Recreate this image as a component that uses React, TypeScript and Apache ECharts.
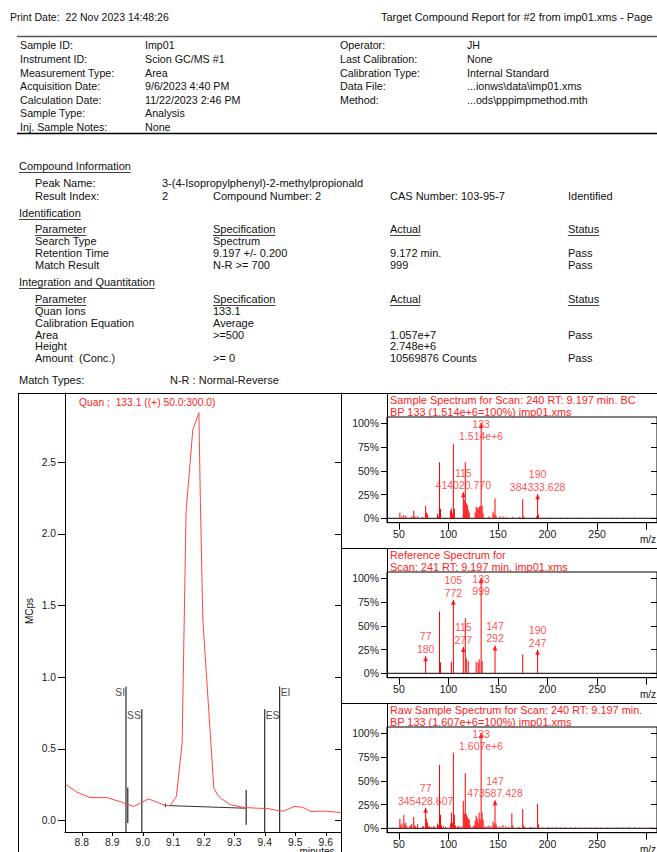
import React, { useEffect, useRef } from 'react';
import * as echarts from 'echarts';

const FONT = '"Liberation Sans", Arial, sans-serif';
const RED = '#ff0000';
const RED_TEXT = '#ff2424';
const INK = '#111111';

// ---- report header ----
const printDate = 'Print Date:  22 Nov 2023 14:48:26';
const reportTitle = 'Target Compound Report for #2 from imp01.xms - Page';

const sampleInfoLabels = ['Sample ID:', 'Instrument ID:', 'Measurement Type:', 'Acquisition Date:', 'Calculation Date:', 'Sample Type:', 'Inj. Sample Notes:'];
const sampleInfoValues = ['Imp01', 'Scion GC/MS #1', 'Area', '9/6/2023 4:40 PM', '11/22/2023 2:46 PM', 'Analysis', 'None'];
const runInfoLabels = ['Operator:', 'Last Calibration:', 'Calibration Type:', 'Data File:', 'Method:'];
const runInfoValues = ['JH', 'None', 'Internal Standard', '...ionws\\data\\imp01.xms', '...ods\\pppimpmethod.mth'];

// ---- compound section ----
const peakName = '3-(4-Isopropylphenyl)-2-methylpropionald';
const resultIndexRow = ['2', 'Compound Number: 2', 'CAS Number: 103-95-7', 'Identified'];
const tableHead = ['Parameter', 'Specification', 'Actual', 'Status'];
const identRows = [
  ['Search Type', 'Spectrum', '', ''],
  ['Retention Time', '9.197 +/- 0.200', '9.172 min.', 'Pass'],
  ['Match Result', 'N-R >= 700', '999', 'Pass'],
];
const quantRows = [
  ['Quan Ions', '133.1', '', ''],
  ['Calibration Equation', 'Average', '', ''],
  ['Area', '>=500', '1.057e+7', 'Pass'],
  ['Height', '', '2.748e+6', ''],
  ['Amount  (Conc.)', '>= 0', '10569876 Counts', 'Pass'],
];

// ---- chromatogram (m/z 133.1 trace, MCps vs minutes) ----
const chromTime = [8.745, 8.784, 8.827, 8.882, 8.926, 8.946, 8.970, 8.992, 9.019, 9.047, 9.074, 9.090, 9.110, 9.129, 9.142, 9.164, 9.184, 9.189, 9.197, 9.233, 9.244, 9.255, 9.288, 9.332, 9.376, 9.409, 9.441, 9.463, 9.496, 9.524, 9.551, 9.595, 9.650];
const chromMCps = [0.256, 0.198, 0.160, 0.160, 0.132, 0.116, 0.098, 0.121, 0.151, 0.128, 0.105, 0.105, 0.167, 0.540, 2.155, 2.725, 2.845, 2.213, 1.400, 0.226, 0.185, 0.156, 0.110, 0.091, 0.086, 0.084, 0.070, 0.066, 0.098, 0.093, 0.063, 0.066, 0.056];
const chromTicks = [8.8, 8.9, 9.0, 9.1, 9.2, 9.3, 9.4, 9.5, 9.6];
const chromYTicks = [0, 0.5, 1.0, 1.5, 2.0, 2.5];
const chromMin = -0.08;
const chromMax = 2.983;

// integration window markers
const markerNames = ['SI', 'SS', 'ES', 'EI'];
const markerTimes = [8.945, 8.997, 9.400, 9.449];
const markerTops = [0.935, 0.777, 0.777, 0.935];
const markerSides = ['left', 'left', 'right', 'right'];
// peak start / end ticks and the integration baseline
const peakStart = [9.074, 0.105];
const peakEnd = [9.337, 0.086];
const windowTicks: [number, number, number][] = [[8.951, 0.23, -0.018], [9.339, 0.214, -0.03]];

// ---- spectra (m/z, relative %) ----
const mzTicks = [50, 100, 150, 200, 250, 300];
const mzLabels = [50, 100, 150, 200, 250];
const pctTicks = [0, 25, 50, 75, 100];
const mzMin = 38;
const mzMax = 310.5;
const pctMin = -4.63;
const pctMax = 106.6;

const sampleBase = 1.514e6;
const sampleBars: [number, number][] = [
  [51, 6], [53, 2], [55, 3.5], [57, 2.5], [63, 2], [65, 8], [66, 2], [69, 2], [74, 1.5], [77, 13],
  [78, 6], [79, 4], [89, 4.5], [90, 2], [91, 59], [92, 10], [102, 8], [103, 10.5], [104, 5], [105, 78],
  [106, 10], [116, 19], [117, 59], [118, 16], [119, 14], [120, 9], [121, 6], [127, 6], [128, 12], [129, 11],
  [130, 10], [131, 12], [132, 13], [134, 13], [135, 5], [141, 2], [145, 7], [146, 4], [147, 21], [148, 3],
  [152, 2], [155, 2], [158, 1.5], [165, 1.5], [172, 1.5], [175, 20], [176, 2.5], [189, 2], [191, 4],
  [203, 0.8], [208, 0.6], [213, 0.9], [219, 0.7], [224, 0.6], [231, 0.8], [236, 0.7], [242, 0.6], [247, 0.9],
  [253, 0.6], [259, 0.7], [265, 0.8], [270, 0.6], [276, 0.7], [283, 0.6], [288, 0.8], [294, 0.6], [299, 0.7], [305, 0.6],
];
const sampleLabelMz = [115, 133, 190];
const sampleLabelAbs = [414020.77, 1.514e6, 384333.628];

const refBase = 999;
const refBars: [number, number][] = [
  [91, 65], [92, 11.5], [103, 12], [117, 58], [118, 16], [120, 13], [128, 12], [130, 11.5], [131, 14.7], [134, 13], [175, 20],
];
const refLabelMz = [77, 105, 115, 133, 147, 190];
const refLabelAbs = [180, 772, 277, 999, 292, 247];

const rawBase = 1.607e6;
const rawBars: [number, number][] = [
  [51, 10], [52, 3], [53, 5], [55, 14], [56, 4], [57, 6], [58, 2], [61, 2], [62, 3], [63, 4.5],
  [65, 12], [66, 3], [67, 2], [69, 4.5], [74, 2], [75, 2], [78, 10], [79, 6], [80, 2], [81, 2],
  [83, 1.5], [85, 2], [86, 1.5], [89, 5], [90, 3], [91, 66.7], [92, 14], [93, 3], [95, 2], [97, 1.5],
  [102, 5], [103, 16.5], [104, 6], [105, 79.6], [106, 14], [107, 3], [109, 2], [110, 2], [111, 1.5], [113, 2],
  [115, 29], [116, 15.8], [117, 58], [118, 15], [119, 12], [120, 10], [121, 9], [122, 3], [125, 2], [126, 3],
  [127, 7.7], [128, 13.3], [129, 10.5], [130, 6], [131, 16.5], [132, 9], [134, 16.5], [135, 9], [137, 2], [139, 2],
  [141, 3], [143, 2], [145, 7], [146, 4], [148, 5], [149, 2], [152, 2], [155, 3.5], [158, 2], [161, 1.5],
  [164, 15.8], [165, 3], [171, 1.5], [175, 20.4], [176, 3], [177, 1.5], [183, 1.5], [186, 1], [190, 25.6], [191, 4],
  [195, 1], [201, 1.2], [205, 0.8], [209, 1], [214, 0.8], [218, 1.2], [223, 0.9], [228, 1], [233, 0.8], [238, 1],
  [243, 0.8], [249, 1.1], [254, 0.8], [260, 0.9], [266, 0.8], [271, 1], [277, 0.8], [282, 1.2], [288, 0.8], [293, 0.9],
  [299, 0.8], [304, 1],
];
const rawLabelMz = [77, 133, 147];
const rawLabelAbs = [345428.607, 1.607e6, 473587.428];

const spectrumTitles = [
  ['Sample Spectrum for Scan: 240 RT: 9.197 min. BC', 'BP 133 (1.514e+6=100%) imp01.xms'],
  ['Reference Spectrum for', 'Scan: 241 RT: 9.197 min. imp01.xms'],
  ['Raw Sample Spectrum for Scan: 240 RT: 9.197 min.', 'BP 133 (1.607e+6=100%) imp01.xms'],
];

// ---- layout ----
const FS = 10.5;
const FS_INFO = 10.7;
const FS_BODY = 11;
const FS_TITLE = 10.9;
const panelTops = [393, 548, 703];
const specLeft = 387;
const specWidth = 274;
const specHeight = 105.7;
const chromGrid = { left: 65, top: 393, width: 276, height: 439 };

function measure(text: string, size: number) {
  const ctx = document.createElement('canvas').getContext('2d');
  if (!ctx) return text.length * size * 0.5;
  ctx.font = `${size}px ${FONT}`;
  return ctx.measureText(text).width;
}

function txt(x: number, y: number, text: string, extra: any = {}) {
  return {
    type: 'text',
    x,
    y,
    silent: true,
    style: {
      text,
      fill: INK,
      fontSize: FS,
      fontFamily: FONT,
      align: 'left',
      verticalAlign: 'middle',
      ...extra,
    },
  };
}

function hline(x1: number, x2: number, y: number, color = '#000', w = 1) {
  return { type: 'line', silent: true, shape: { x1, y1: y, x2, y2: y }, style: { stroke: color, lineWidth: w } };
}
function vline(x: number, y1: number, y2: number, color = '#000', w = 1) {
  return { type: 'line', silent: true, shape: { x1: x, y1, x2: x, y2 }, style: { stroke: color, lineWidth: w } };
}

function underlined(x: number, y: number, text: string) {
  const w = measure(text, FS_BODY);
  return [txt(x, y, text, { fontSize: FS_BODY }), hline(x, x + w, y + 6.5, INK, 0.8)];
}

function body(x: number, y: number, text: string) {
  return txt(x, y, text, { fontSize: FS_BODY });
}

function formatAbs(v: number, base: number) {
  if (base === 999) return String(v);
  return v >= 1e6 ? v.toExponential(3) : v.toFixed(3);
}

function buildGraphic() {
  const g: any[] = [];
  g.push(txt(10, 17, printDate));
  g.push(txt(381, 17, reportTitle, { fontSize: 11 }));

  // sample information block
  g.push(hline(17, 657, 36.5, '#555', 1.5));
  g.push(hline(17, 657, 133.5, '#000', 1.5));
  sampleInfoLabels.forEach((l, i) => {
    const y = 45.3 + i * 13.6;
    g.push(txt(20, y, l, { fontSize: FS_INFO }));
    g.push(txt(145, y, sampleInfoValues[i], { fontSize: FS_INFO }));
  });
  runInfoLabels.forEach((l, i) => {
    const y = 45.3 + i * 13.6;
    g.push(txt(340, y, l, { fontSize: FS_INFO }));
    g.push(txt(467, y, runInfoValues[i], { fontSize: FS_INFO }));
  });

  const cols = [35, 213, 390, 568];
  g.push(...underlined(19, 166, 'Compound Information'));
  g.push(body(35, 183, 'Peak Name:'));
  g.push(body(162, 183, peakName));
  g.push(body(35, 196, 'Result Index:'));
  g.push(body(162, 196, resultIndexRow[0]));
  g.push(body(213, 196, resultIndexRow[1]));
  g.push(body(390, 196, resultIndexRow[2]));
  g.push(body(568, 196, resultIndexRow[3]));

  g.push(...underlined(19, 213, 'Identification'));
  tableHead.forEach((h, c) => g.push(...underlined(cols[c], 229, h)));
  identRows.forEach((row, r) => {
    row.forEach((cell, c) => {
      if (cell) g.push(body(cols[c], 241 + r * 12, cell));
    });
  });

  g.push(...underlined(19, 282, 'Integration and Quantitation'));
  tableHead.forEach((h, c) => g.push(...underlined(cols[c], 299, h)));
  quantRows.forEach((row, r) => {
    row.forEach((cell, c) => {
      if (cell) g.push(body(cols[c], 311 + r * 11.8, cell));
    });
  });
  g.push(body(19, 380, 'Match Types:'));
  g.push(body(170, 380, 'N-R : Normal-Reverse'));

  // frame around the plots
  g.push(hline(18, 657, 393.5));
  g.push(vline(18.5, 393, 852));
  g.push(vline(341.5, 393, 852));
  panelTops.forEach((top, k) => {
    if (k > 0) g.push(hline(341, 657, top + 0.5));
    g.push(vline(specLeft + 0.5, top, top + 24));
    g.push(txt(390, top + 6.5, spectrumTitles[k][0], { fill: RED_TEXT, fontSize: FS_TITLE }));
    g.push(txt(390, top + 19, spectrumTitles[k][1], { fill: RED_TEXT, fontSize: FS_TITLE }));
    g.push(txt(640, top + 24 + specHeight + 17, 'm/z', { fontSize: 10, fill: INK }));
  });

  // chromatogram annotations
  g.push(txt(79, 402, 'Quan ;  133.1 ((+) 50.0:300.0)', { fill: RED_TEXT, fontSize: 10.3 }));
  g.push({
    type: 'text',
    x: 29,
    y: 611,
    rotation: Math.PI / 2,
    silent: true,
    style: { text: 'MCps', fill: INK, fontSize: 10, fontFamily: FONT, align: 'center', verticalAlign: 'middle' },
  });
  g.push(txt(317, 851, 'minutes', { fontSize: 10, align: 'center' }));
  return g;
}

function segmentSeries(xi: number, yi: number, data: number[][], color: string, z = 3) {
  return {
    type: 'custom',
    xAxisIndex: xi,
    yAxisIndex: yi,
    z,
    silent: true,
    encode: { x: [0, 2], y: [1, 3] },
    data,
    renderItem: (_p: any, api: any) => {
      const a = api.coord([api.value(0), api.value(1)]);
      const b = api.coord([api.value(2), api.value(3)]);
      return {
        type: 'line',
        shape: { x1: a[0], y1: a[1], x2: b[0], y2: b[1] },
        style: { stroke: color, lineWidth: 1 },
      };
    },
  };
}

function barSeries(xi: number, yi: number, data: number[][]) {
  return {
    type: 'custom',
    xAxisIndex: xi,
    yAxisIndex: yi,
    z: 4,
    silent: true,
    encode: { x: 0, y: 1 },
    data,
    renderItem: (_p: any, api: any) => {
      const a = api.coord([api.value(0), 0]);
      const b = api.coord([api.value(0), api.value(1)]);
      return {
        type: 'line',
        shape: { x1: a[0], y1: a[1], x2: b[0], y2: b[1] },
        style: { stroke: RED, lineWidth: 1 },
      };
    },
  };
}

function labelSeries(xi: number, yi: number, mz: number[], abs: number[], base: number) {
  return {
    type: 'scatter',
    xAxisIndex: xi,
    yAxisIndex: yi,
    z: 6,
    silent: true,
    symbol: 'triangle',
    symbolSize: [5, 5],
    symbolOffset: [0, 2.5],
    itemStyle: { color: RED },
    label: {
      show: true,
      position: 'top',
      distance: 1,
      color: RED_TEXT,
      fontSize: FS,
      fontFamily: FONT,
      lineHeight: 12.5,
      align: 'center',
    },
    data: mz.map((m, i) => {
      const pct = (abs[i] / base) * 100;
      const text = `${m}\n${formatAbs(abs[i], base)}`;
      const full = pct > 95;
      return {
        value: [m, pct],
        label: full ? { formatter: text, position: 'inside', offset: [0, 4] } : { formatter: text },
      };
    }),
  };
}

function buildOption() {
  const axisColor = '#000';
  const labelStyle = { color: '#1a1a1a', fontSize: 10, fontFamily: FONT };

  const xAxis: any[] = [
    {
      type: 'value',
      gridIndex: 0,
      min: 8.745,
      max: 9.65,
      axisLine: { onZero: false, lineStyle: { color: axisColor } },
      axisTick: { length: 4, lineStyle: { color: axisColor }, customValues: chromTicks },
      axisLabel: { ...labelStyle, fontSize: 10.3, margin: 5, customValues: chromTicks, formatter: (v: number) => v.toFixed(1) },
      splitLine: { show: false },
    },
  ];
  const yAxis: any[] = [
    {
      type: 'value',
      gridIndex: 0,
      min: chromMin,
      max: chromMax,
      axisLine: { show: true, onZero: false, lineStyle: { color: axisColor } },
      axisTick: { show: true, length: 7, lineStyle: { color: axisColor }, customValues: chromYTicks },
      axisLabel: { ...labelStyle, fontSize: 10.3, margin: 9, customValues: chromYTicks, formatter: (v: number) => v.toFixed(1) },
      splitLine: { show: false },
    },
    {
      type: 'value',
      gridIndex: 0,
      position: 'right',
      min: chromMin,
      max: chromMax,
      axisLine: { show: true, onZero: false, lineStyle: { color: axisColor } },
      axisTick: { show: true, inside: true, length: 6, lineStyle: { color: axisColor }, customValues: chromYTicks },
      axisLabel: { show: false },
      splitLine: { show: false },
    },
  ];
  const grid: any[] = [{ ...chromGrid, containLabel: false }];

  panelTops.forEach((top, k) => {
    grid.push({
      left: specLeft,
      top: top + 24,
      width: specWidth,
      height: specHeight,
      show: true,
      borderColor: '#000',
      borderWidth: 1,
      backgroundColor: 'transparent',
    });
    xAxis.push({
      type: 'value',
      gridIndex: k + 1,
      min: mzMin,
      max: mzMax,
      axisLine: { onZero: false, lineStyle: { color: axisColor } },
      axisTick: { length: 7, lineStyle: { color: axisColor }, customValues: mzTicks },
      axisLabel: { ...labelStyle, fontSize: FS, margin: 6, customValues: mzLabels },
      splitLine: { show: false },
    });
    yAxis.push(
      {
        type: 'value',
        gridIndex: k + 1,
        min: pctMin,
        max: pctMax,
        axisLine: { show: true, onZero: false, lineStyle: { color: axisColor } },
        axisTick: { show: true, length: 6, lineStyle: { color: axisColor }, customValues: pctTicks },
        axisLabel: { ...labelStyle, fontSize: FS, margin: 8, customValues: pctTicks, formatter: (v: number) => `${v}%` },
        splitLine: { show: false },
      },
      {
        type: 'value',
        gridIndex: k + 1,
        position: 'right',
        min: pctMin,
        max: pctMax,
        axisLine: { show: true, onZero: false, lineStyle: { color: axisColor } },
        axisTick: { show: true, inside: true, length: 6, lineStyle: { color: axisColor }, customValues: pctTicks },
        axisLabel: { show: false },
        splitLine: { show: false },
      },
    );
  });

  const chromSegments: number[][] = [
    ...markerTimes.map((t, i) => [t, markerTops[i], t, chromMin]),
    ...windowTicks.map(([t, a, b]) => [t, a, t, b]),
    [peakStart[0], peakStart[1] + 0.013, peakStart[0], peakStart[1] - 0.01],
  ];

  const series: any[] = [
    {
      type: 'line',
      xAxisIndex: 0,
      yAxisIndex: 0,
      data: chromTime.map((t, i) => [t, chromMCps[i]]),
      showSymbol: false,
      symbol: 'none',
      silent: true,
      lineStyle: { color: '#ff4646', width: 1 },
      z: 4,
    },
    segmentSeries(0, 0, chromSegments, '#000'),
    segmentSeries(0, 0, [[peakStart[0], peakStart[1], peakEnd[0], peakEnd[1]]], '#333'),
    {
      type: 'scatter',
      xAxisIndex: 0,
      yAxisIndex: 0,
      symbolSize: 0,
      silent: true,
      label: { show: true, color: INK, fontSize: 10.3, fontFamily: FONT, distance: 1 },
      data: markerNames.map((n, i) => ({
        value: [markerTimes[i], markerTops[i]],
        label: { formatter: n, position: markerSides[i], offset: [0, 6] },
      })),
    },
  ];

  const bars = [sampleBars, refBars, rawBars];
  const labelSets: [number[], number[], number][] = [
    [sampleLabelMz, sampleLabelAbs, sampleBase],
    [refLabelMz, refLabelAbs, refBase],
    [rawLabelMz, rawLabelAbs, rawBase],
  ];
  bars.forEach((b, k) => {
    const xi = k + 1;
    const yi = 2 + k * 2;
    const [lm, la, base] = labelSets[k];
    const labelled = lm.map((m, i) => [m, (la[i] / base) * 100]);
    series.push(segmentSeries(xi, yi, [[mzMin, 0, mzMax, 0]], '#000', 2));
    series.push(barSeries(xi, yi, [...b, ...labelled]));
    series.push(labelSeries(xi, yi, lm, la, base));
  });

  return {
    animation: false,
    backgroundColor: '#fff',
    textStyle: { fontFamily: FONT },
    grid,
    xAxis,
    yAxis,
    series,
    graphic: { elements: buildGraphic() },
  };
}

export default function App() {
  const ref = useRef<HTMLDivElement>(null);
  useEffect(() => {
    if (!ref.current) return;
    const chart = echarts.init(ref.current, undefined, { renderer: 'svg' });
    chart.setOption(buildOption() as any);
    return () => chart.dispose();
  }, []);
  return (
    <div style={{ position: 'absolute', left: 0, top: 0, width: 657, height: 852, overflow: 'hidden', background: '#fff' }}>
      <div ref={ref} style={{ width: 657, height: 852 }} />
    </div>
  );
}
